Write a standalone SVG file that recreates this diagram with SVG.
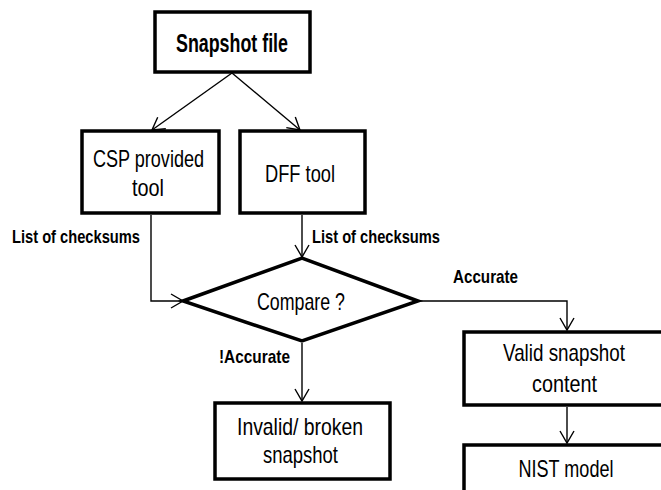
<svg xmlns="http://www.w3.org/2000/svg" width="661" height="490" viewBox="0 0 661 490">
<style>
.box{fill:#fff;stroke:#000;stroke-width:3.5}
.edge{fill:none;stroke:#000;stroke-width:1.4}
.t{font-family:"Liberation Sans",Arial,sans-serif;font-size:24px;fill:#000;text-anchor:middle}
.b{font-family:"Liberation Sans",Arial,sans-serif;font-size:19px;font-weight:bold;fill:#000}
.tb{font-family:"Liberation Sans",Arial,sans-serif;font-size:26px;font-weight:bold;fill:#000;text-anchor:middle}
</style>
<defs>
<marker id="arr" markerUnits="userSpaceOnUse" markerWidth="14" markerHeight="16" refX="12" refY="7" orient="auto" viewBox="0 0 14 14" overflow="visible">
<path d="M0,0 L12,7 L0,14" fill="none" stroke="#000" stroke-width="1.4"/>
</marker>
</defs>
<rect width="661" height="490" fill="#fff"/>
<g id="connectors">
<path class="edge" d="M232,73 L152,130" marker-end="url(#arr)"/>
<path class="edge" d="M232,73 L300,130" marker-end="url(#arr)"/>
<path class="edge" d="M151,215 V301 H183" marker-end="url(#arr)"/>
<path class="edge" d="M302,215 V257" marker-end="url(#arr)"/>
<path class="edge" d="M420,301 H567 V330" marker-end="url(#arr)"/>
<path class="edge" d="M302,343 V401" marker-end="url(#arr)"/>
<path class="edge" d="M567,407 V443" marker-end="url(#arr)"/>
<text class="b" x="12" y="243" textLength="128" lengthAdjust="spacingAndGlyphs">List of checksums</text>
<text class="b" x="312" y="243" textLength="128" lengthAdjust="spacingAndGlyphs">List of checksums</text>
<text class="b" x="453" y="283" textLength="65" lengthAdjust="spacingAndGlyphs">Accurate</text>
<text class="b" x="219" y="363" textLength="71" lengthAdjust="spacingAndGlyphs">!Accurate</text>
</g>
<g id="snapshot-file">
<rect class="box" x="155" y="12" width="155" height="60"/>
<text class="tb" x="232" y="52" textLength="112" lengthAdjust="spacingAndGlyphs">Snapshot file</text>
</g>
<g id="csp-tool">
<rect class="box" x="82" y="131" width="137" height="82"/>
<text class="t" x="148.5" y="167" textLength="111" lengthAdjust="spacingAndGlyphs">CSP provided</text>
<text class="t" x="148" y="196" textLength="32" lengthAdjust="spacingAndGlyphs">tool</text>
</g>
<g id="dff-tool">
<rect class="box" x="240" y="131" width="125" height="82"/>
<text class="t" x="300" y="182" textLength="70" lengthAdjust="spacingAndGlyphs">DFF tool</text>
</g>
<g id="compare">
<polygon class="box" points="183,301 302,258 418,301 302,341"/>
<text class="t" x="301" y="310" textLength="88" lengthAdjust="spacingAndGlyphs">Compare ?</text>
</g>
<g id="invalid">
<rect class="box" x="215" y="403" width="175" height="76"/>
<text class="t" x="300" y="435" textLength="126" lengthAdjust="spacingAndGlyphs">Invalid/ broken</text>
<text class="t" x="300.5" y="463" textLength="75" lengthAdjust="spacingAndGlyphs">snapshot</text>
</g>
<g id="valid">
<rect class="box" x="464" y="332" width="202" height="73"/>
<text class="t" x="564" y="361" textLength="122" lengthAdjust="spacingAndGlyphs">Valid snapshot</text>
<text class="t" x="564.5" y="392" textLength="65" lengthAdjust="spacingAndGlyphs">content</text>
</g>
<g id="nist">
<rect class="box" x="464" y="445" width="202" height="60"/>
<text class="t" x="566" y="477" textLength="95" lengthAdjust="spacingAndGlyphs">NIST model</text>
</g>
</svg>
